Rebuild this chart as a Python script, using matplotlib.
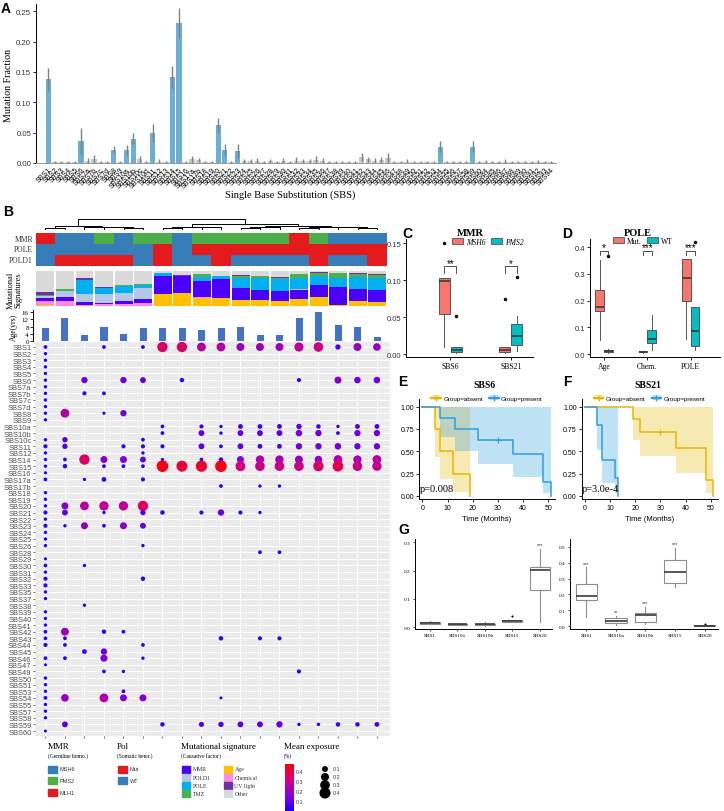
import numpy as np
import matplotlib.pyplot as plt
from matplotlib.colors import LinearSegmentedColormap, Normalize
from matplotlib.patches import Patch, Rectangle
from matplotlib.lines import Line2D

plt.rcParams['font.family'] = ['Liberation Sans', 'DejaVu Sans']
SERIF = ['Liberation Serif', 'DejaVu Serif']

# ---------------- data ----------------
# Panel A: mean fraction of every COSMIC SBS signature
sbs_all = ['SBS1', 'SBS2', 'SBS3', 'SBS4', 'SBS5', 'SBS6', 'SBS7a', 'SBS7b', 'SBS7c', 'SBS7d',
           'SBS8', 'SBS9', 'SBS10a', 'SBS10b', 'SBS10c', 'SBS10d', 'SBS11', 'SBS12', 'SBS13',
           'SBS14', 'SBS15', 'SBS16', 'SBS17a', 'SBS17b', 'SBS18', 'SBS19', 'SBS20', 'SBS21',
           'SBS22', 'SBS23', 'SBS24', 'SBS25', 'SBS26', 'SBS27', 'SBS28', 'SBS29', 'SBS30',
           'SBS31', 'SBS32', 'SBS33', 'SBS34', 'SBS35', 'SBS36', 'SBS37', 'SBS38', 'SBS39',
           'SBS40', 'SBS41', 'SBS42', 'SBS43', 'SBS44', 'SBS45', 'SBS46', 'SBS47', 'SBS48',
           'SBS49', 'SBS50', 'SBS51', 'SBS52', 'SBS53', 'SBS54', 'SBS55', 'SBS56', 'SBS57',
           'SBS58', 'SBS59', 'SBS60', 'SBS84', 'SBS85', 'SBS86', 'SBS87', 'SBS88', 'SBS89',
           'SBS90', 'SBS91', 'SBS92', 'SBS93', 'SBS94']
frac = [0.138, 0.001, 0.001, 0.001, 0.001, 0.036, 0.004, 0.006, 0.001, 0.001,
        0.022, 0.001, 0.022, 0.040, 0.006, 0.002, 0.050, 0.002, 0.001,
        0.141, 0.231, 0.001, 0.006, 0.005, 0.002, 0.002, 0.062, 0.022,
        0.002, 0.020, 0.003, 0.003, 0.003, 0.002, 0.003, 0.002, 0.003,
        0.002, 0.003, 0.003, 0.003, 0.005, 0.004, 0.002, 0.002, 0.002,
        0.002, 0.002, 0.010, 0.006, 0.004, 0.005, 0.008, 0.001, 0.001,
        0.002, 0.001, 0.001, 0.001, 0.001, 0.027, 0.001, 0.001, 0.001,
        0.001, 0.027, 0.001, 0.002, 0.001, 0.001, 0.002, 0.001, 0.001,
        0.001, 0.001, 0.002, 0.001, 0.001]
frac_err = [0.019, 0.002, 0.002, 0.002, 0.002, 0.022, 0.005, 0.008, 0.002, 0.002,
            0.006, 0.002, 0.008, 0.009, 0.006, 0.002, 0.015, 0.005, 0.002,
            0.019, 0.025, 0.002, 0.006, 0.004, 0.002, 0.002, 0.012, 0.010,
            0.002, 0.011, 0.004, 0.003, 0.005, 0.002, 0.003, 0.002, 0.005,
            0.002, 0.007, 0.003, 0.003, 0.006, 0.005, 0.002, 0.002, 0.002,
            0.002, 0.002, 0.007, 0.004, 0.005, 0.005, 0.009, 0.002, 0.002,
            0.004, 0.002, 0.002, 0.002, 0.003, 0.009, 0.002, 0.002, 0.002,
            0.002, 0.009, 0.002, 0.003, 0.002, 0.002, 0.004, 0.002, 0.002,
            0.002, 0.002, 0.003, 0.002, 0.002]
highlight = ['SBS1', 'SBS6', 'SBS8', 'SBS10a', 'SBS10b', 'SBS11', 'SBS14', 'SBS15',
             'SBS20', 'SBS21', 'SBS23', 'SBS54', 'SBS59']

# Panel B: sample annotations (18 samples, dendrogram order)
mmr_status = ['MLH1', 'MSH6', 'MSH6', 'PMS2', 'MSH6', 'PMS2', 'PMS2', 'MSH6', 'PMS2', 'PMS2',
              'PMS2', 'PMS2', 'PMS2', 'MLH1', 'PMS2', 'MSH6', 'MSH6', 'MSH6']
pole_status = ['WT'] * 6 + ['Mut', 'WT'] + ['Mut'] * 10
pold1_status = ['WT', 'Mut', 'Mut', 'Mut', 'Mut', 'WT', 'Mut', 'WT', 'WT', 'Mut',
                'WT', 'WT', 'WT', 'WT', 'Mut', 'WT', 'WT', 'Mut']
age_years = [7, 13, 3, 7.5, 3.5, 7, 7, 7, 6, 7, 7.5, 3, 3, 13, 16, 9, 8, 2]

# dendrogram merges (child a, child b, height); new clusters numbered from 18
dendro_merges = [(0, 1, 0.10), (4, 5, 0.08), (3, 19, 0.12), (2, 20, 0.16), (18, 21, 0.30),
                 (6, 7, 0.10), (8, 9, 0.12), (23, 24, 0.20),
                 (10, 11, 0.08), (12, 26, 0.12), (13, 14, 0.10), (16, 17, 0.08),
                 (15, 29, 0.13), (28, 30, 0.18), (27, 31, 0.24),
                 (25, 32, 0.50), (22, 33, 1.00)]

# mutational signature composition per sample (fractions)
sig_age = [.03, 0, 0, 0, 0, .02, .34, .38, .23, .24, .17, .17, .14, .20, .25, .05, .14, .13]
sig_chem = [.11, .14, .03, .06, .06, .07, 0, 0, .03, 0, 0, 0, 0, 0, 0, 0, .02, 0]
sig_mmr = [.10, .12, .10, .03, .09, .13, .53, .47, .45, .53, .36, .29, .29, .26, .34, .51, .34, .33]
sig_pold1 = [.06, .17, .21, .25, .22, .30, 0, 0, 0, 0, 0, 0, 0, .02, 0, 0, 0, 0]
sig_pole = [0, 0, .40, .18, .20, .09, .06, 0, .13, .09, .27, .34, .34, .31, .26, .24, .34, .34]
sig_tmz = [.03, .05, 0, 0, .04, .03, 0, 0, .08, 0, .06, .06, .03, .13, .08, .14, .07, .09]
sig_uv = [.065, 0, .06, .03, 0, 0, .02, .03, 0, 0, .02, 0, .03, 0, .04, 0, .03, .03]
sig_other = [.605, .52, .20, .45, .39, .36, .05, .12, .08, .14, .12, .14, .17, .08, .03, .06, .06, .08]

# mean exposure of each signature per sample: {signature: {sample column: exposure}}
exposure = {
    'SBS1': {0: .03, 3: .03, 5: .03, 6: .35, 7: .35, 8: .25, 9: .25, 10: .2, 11: .2, 12: .2,
             13: .27, 14: .3, 15: .08, 16: .2, 17: .18},
    'SBS2': {0: .02}, 'SBS3': {0: .02}, 'SBS4': {0: .02}, 'SBS5': {0: .02},
    'SBS6': {0: .02, 2: .12, 4: .12, 5: .1, 7: .05, 13: .04, 15: .15, 16: .13, 17: .13},
    'SBS7a': {0: .02}, 'SBS7b': {0: .02, 2: .04, 3: .03}, 'SBS7c': {0: .02}, 'SBS7d': {0: .02},
    'SBS8': {0: .02, 1: .25, 3: .015, 4: .12},
    'SBS9': {0: .02},
    'SBS10a': {6: .03, 8: .04, 9: .02, 10: .06, 11: .06, 12: .06, 13: .08, 14: .05, 15: .02,
               16: .06, 17: .06},
    'SBS10b': {6: .03, 8: .1, 9: .02, 10: .1, 11: .1, 12: .1, 13: .13, 14: .12, 15: .03,
               16: .12, 17: .12},
    'SBS10c': {0: .02, 1: .08, 5: .03},
    'SBS11': {0: .04, 1: .08, 4: .04, 5: .04, 6: .04, 8: .1, 9: .03, 10: .1, 11: .06, 12: .06,
              13: .12, 14: .12, 15: .13, 16: .12, 17: .12},
    'SBS12': {0: .02, 5: .02},
    'SBS14': {0: .02, 1: .03, 2: .35, 3: .15, 4: .15, 5: .1, 6: .02, 8: .03, 9: .05, 10: .15,
              11: .22, 12: .22, 13: .2, 14: .18, 15: .25, 16: .22, 17: .25},
    'SBS15': {0: .02, 1: .05, 3: .03, 4: .03, 5: .03, 6: .45, 7: .4, 8: .42, 9: .45, 10: .32,
              11: .3, 12: .3, 13: .3, 14: .35, 15: .38, 16: .3, 17: .28},
    'SBS16': {0: .015},
    'SBS17a': {0: .03, 2: .02, 3: .06, 5: .04},
    'SBS17b': {9: .03, 11: .02, 12: .02},
    'SBS18': {0: .02}, 'SBS19': {0: .02},
    'SBS20': {0: .02, 1: .15, 2: .25, 3: .28, 4: .28, 5: .35},
    'SBS21': {0: .04, 1: .1, 3: .02, 5: .08, 6: .05, 8: .04, 9: .12, 10: .04, 11: .02},
    'SBS22': {0: .02},
    'SBS23': {0: .04, 1: .02, 2: .15, 3: .03, 4: .15, 5: .1},
    'SBS24': {0: .02}, 'SBS25': {0: .02}, 'SBS26': {0: .02, 5: .02},
    'SBS28': {11: .03, 12: .03},
    'SBS29': {0: .015}, 'SBS30': {0: .03, 2: .02}, 'SBS31': {0: .02},
    'SBS32': {0: .04, 5: .05}, 'SBS33': {0: .04}, 'SBS35': {0: .02}, 'SBS37': {0: .02},
    'SBS38': {2: .02}, 'SBS39': {0: .02}, 'SBS40': {0: .02}, 'SBS41': {0: .02},
    'SBS42': {0: .03, 1: .2, 3: .05, 4: .03},
    'SBS43': {0: .03, 1: .03, 9: .05, 11: .04, 12: .04},
    'SBS44': {0: .04, 1: .03, 5: .03},
    'SBS45': {2: .06, 3: .12},
    'SBS46': {0: .03, 1: .03, 3: .16, 5: .02},
    'SBS47': {0: .012},
    'SBS49': {3: .03, 4: .02, 13: .04},
    'SBS50': {0: .02}, 'SBS51': {0: .02}, 'SBS53': {0: .02, 4: .03},
    'SBS54': {0: .03, 1: .18, 3: .25, 4: .15, 5: .15, 9: .012},
    'SBS55': {0: .02}, 'SBS57': {0: .02}, 'SBS58': {0: .02},
    'SBS59': {1: .1, 6: .05, 8: .07, 9: .08, 10: .1, 11: .1, 12: .12, 13: .02, 14: .02,
              15: .05, 16: .05, 17: .06},
    'SBS60': {0: .012},
}

# Panel C: boxplot summaries (whislo, q1, med, q3, whishi, outliers)
mmr_sigs = ['SBS6', 'SBS21']
msh6_box = [(0.010, 0.054, 0.099, 0.103, 0.103, [0.150]),
            (0.001, 0.003, 0.006, 0.009, 0.009, [0.074])]
pms2_box = [(0.002, 0.003, 0.005, 0.010, 0.010, [0.051]),
            (0.004, 0.012, 0.024, 0.041, 0.052, [0.105])]
mmr_marks = ['**', '*']

# Panel D
pole_groups = ['Age', 'Chem.', 'POLE']
mut_box = [(0.054, 0.159, 0.174, 0.241, 0.350, []),
           (0.005, 0.006, 0.008, 0.010, 0.011, []),
           (0.056, 0.198, 0.285, 0.354, 0.354, [])]
wt_box = [(0.005, 0.007, 0.0125, 0.016, 0.018, [0.366]),
          (0.015, 0.041, 0.056, 0.090, 0.144, []),
          (0.016, 0.031, 0.085, 0.175, 0.175, [0.420])]
pole_marks = ['*', '***', '***']

# Panels E/F: Kaplan-Meier steps
e_abs_t = [0, 5, 7, 12, 19]
e_abs_s = [1, 0.75, 0.5, 0.25, 0]
e_abs_lo = [1, 0.44, 0.19, 0.045, 0.045]
e_pre_t = [0, 7, 13, 22, 36, 48, 51]
e_pre_s = [1, 0.875, 0.75, 0.625, 0.469, 0.156, 0]
e_pre_lo = [1, 0.66, 0.5, 0.36, 0.21, 0.03, 0.03]
e_pre_cens = [(30, 0.625)]
f_abs_t = [0, 19, 22, 36, 48, 51]
f_abs_s = [1, 0.857, 0.714, 0.536, 0.179, 0]
f_abs_lo = [1, 0.63, 0.45, 0.26, 0.03, 0.03]
f_abs_cens = [(30, 0.714)]
f_pre_t = [0, 5, 7, 12, 13]
f_pre_s = [1, 0.8, 0.4, 0.2, 0]
f_pre_lo = [1, 0.52, 0.15, 0.03, 0.03]

# Panel G
pattern_sigs = ['SBS1', 'SBS10a', 'SBS10b', 'SBS15', 'SBS20']
p1_box = [(0.010, 0.012, 0.016, 0.020, 0.022, []),
          (0.008, 0.009, 0.010, 0.012, 0.013, []),
          (0.006, 0.008, 0.010, 0.012, 0.020, []),
          (0.018, 0.020, 0.023, 0.025, 0.027, [0.040]),
          (0.018, 0.133, 0.202, 0.212, 0.276, [])]
p1_marks = ['', '', '', '', '***']
p2_box = [(0.056, 0.165, 0.188, 0.268, 0.370, []),
          (0.010, 0.021, 0.036, 0.050, 0.067, []),
          (0.015, 0.025, 0.071, 0.082, 0.119, []),
          (0.245, 0.272, 0.339, 0.416, 0.490, []),
          (0.002, 0.003, 0.004, 0.006, 0.008, [0.012])]
p2_marks = ['***', '**', '***', '***', '']

# ---------------- styles ----------------
mmr_colors = {'MSH6': '#377EB8', 'PMS2': '#4DAF4A', 'MLH1': '#E41A1C'}
pol_colors = {'Mut': '#E41A1C', 'WT': '#377EB8'}
sig_colors = {'MMR': '#4B00FF', 'POLD1': '#B4C7E7', 'POLE': '#00B0F0', 'TMZ': '#4CAF50',
              'Age': '#FFC000', 'Chemical': '#FF88E8', 'UV light': '#7030A0', 'Other': '#D9D9D9'}
exp_cmap = LinearSegmentedColormap.from_list('exp', ['#1A00FF', '#8A00D4', '#D4007E', '#FF0000'])
exp_norm = Normalize(0.0, 0.48)
GOLD, BLUE = '#E7B800', '#2E9FDF'


def dot_size(v):
    return 150 * np.asarray(v) + 3


W, H = 724, 812
fig = plt.figure(figsize=(W / 100, H / 100), dpi=100)


def px_axes(x0, y0, x1, y1):
    return fig.add_axes([x0 / W, 1 - y1 / H, (x1 - x0) / W, (y1 - y0) / H])


def classic(ax):
    for s in ['top', 'right']:
        ax.spines[s].set_visible(False)
    for s in ['left', 'bottom']:
        ax.spines[s].set_linewidth(0.7)


ov = fig.add_axes([0, 0, 1, 1], zorder=-1)
ov.set_xlim(0, W)
ov.set_ylim(H, 0)
ov.axis('off')

# ---------------- A ----------------
ax = px_axes(36, 5, 556, 164)
xa = np.arange(len(sbs_all))
bar_cols = ['#6BAED6' if s in highlight else '#C8C8C8' for s in sbs_all]
ax.bar(xa, frac, width=0.8, color=bar_cols, edgecolor='none')
ax.errorbar(xa, frac, yerr=frac_err, fmt='none', ecolor='#808080', elinewidth=1, capsize=0)
ax.set_xlim(-1.9, 77.75)
ax.set_ylim(0, 0.262)
ax.set_yticks([0, 0.05, 0.10, 0.15, 0.20, 0.25])
ax.set_yticklabels(['0.00', '0.05', '0.10', '0.15', '0.20', '0.25'], fontsize=5.6, color='#333333')
ax.set_xticks(xa)
ax.set_xticklabels(sbs_all, rotation=45, ha='right', rotation_mode='anchor', fontsize=5)
ax.tick_params(axis='x', length=0, pad=2)
ax.tick_params(axis='y', length=2, width=0.6, pad=1.5)
classic(ax)
ax.spines['bottom'].set_color('#999999')
ov.text(9, 85, 'Mutation Fraction', family=SERIF, fontsize=7.2, rotation=90,
        ha='center', va='center')
ov.text(290, 195, 'Single Base Substitution (SBS)', family=SERIF, fontsize=7.5,
        ha='center', va='center')

# ---------------- B ----------------
ncol = len(mmr_status)
cols = np.arange(ncol)

# dendrogram
ax = px_axes(35.7, 220, 387, 229.5)
node = {i: (float(i), 0.0) for i in range(ncol)}
for k, (a, b, h) in enumerate(dendro_merges):
    xa_, ha_ = node[a]
    xb_, hb_ = node[b]
    ax.plot([xa_, xa_, xb_, xb_], [ha_, h, h, hb_], color='black', lw=0.7, clip_on=False)
    node[ncol + k] = ((xa_ + xb_) / 2, h)
ax.set_xlim(-0.5, ncol - 0.5)
ax.set_ylim(0, 1)
ax.axis('off')

# annotation rows
ax = px_axes(35.7, 234, 387, 267)
for r, (status, cmap_) in enumerate([(mmr_status, mmr_colors), (pole_status, pol_colors),
                                     (pold1_status, pol_colors)]):
    ax.bar(cols, 0.93, bottom=r + 0.035, width=1.0, color=[cmap_[s] for s in status],
           edgecolor='none')
ax.set_xlim(-0.5, ncol - 0.5)
ax.set_ylim(3, 0)
ax.axis('off')
for r, lab in enumerate(['MMR', 'POLE', 'POLD1']):
    ov.text(33, 239.5 + r * 11, lab, family=SERIF, fontsize=5.5, ha='right', va='center',
            color='#333333')

# signature stacks
ax = px_axes(35.7, 272, 387, 307.3)
stack = [('Age', sig_age), ('Chemical', sig_chem), ('MMR', sig_mmr), ('POLD1', sig_pold1),
         ('POLE', sig_pole), ('TMZ', sig_tmz), ('UV light', sig_uv), ('Other', sig_other)]
bottom = np.zeros(ncol)
for name, vals in stack:
    ax.bar(cols, vals, bottom=bottom, width=0.92, color=sig_colors[name], edgecolor='none')
    bottom += np.array(vals)
ax.set_xlim(-0.5, ncol - 0.5)
ax.set_ylim(0, 1)
ax.axis('off')
ov.text(15, 290, 'Mutational\nSignatures', family=SERIF, fontsize=6, rotation=90,
        ha='center', va='center', linespacing=0.95)

# age bars
ax = px_axes(33, 311, 387, 342)
ax.bar(cols, age_years, width=0.36, color='#4472C4')
ax.set_xlim((33 - 45.45) / 19.5, ncol - 0.5)
ax.set_ylim(-0.17, 17.3)
ax.set_yticks([0, 4, 8, 12, 16])
ax.set_yticklabels(['0', '4', '8', '12', '16'], family=SERIF, fontsize=5)
ax.tick_params(axis='y', length=2, width=0.6, pad=1)
ax.set_xticks([])
for s in ['top', 'right', 'bottom']:
    ax.spines[s].set_visible(False)
ax.spines['left'].set_linewidth(0.7)
ov.text(14, 327, 'Age(yrs)', family=SERIF, fontsize=5.5, rotation=90, ha='center', va='center')

# dot matrix
dot_rows = list(exposure.keys())
ax = px_axes(35, 343, 390, 737)
ax.set_facecolor('#EBEBEB')
for i in range(len(dot_rows)):
    ax.axhline(i, color='white', lw=0.7, zorder=0)
for c in cols:
    ax.axvline(c, color='white', lw=0.7, zorder=0)
dx, dy, dv = [], [], []
for i, sig in enumerate(dot_rows):
    for c, v in exposure[sig].items():
        dx.append(c)
        dy.append(i)
        dv.append(v)
dv = np.array(dv)
ax.scatter(dx, dy, s=dot_size(dv), c=dv, cmap=exp_cmap, norm=exp_norm, edgecolors='none',
           zorder=3)
ax.set_xlim((35 - 45.45) / 19.5, (390 - 45.45) / 19.5)
ax.set_ylim(len(dot_rows) - 1 + 0.755, -0.755)
ax.set_yticks(range(len(dot_rows)))
ax.set_yticklabels(dot_rows, fontsize=5.4, color='#4D4D4D')
ax.set_xticks(cols)
ax.set_xticklabels([])
ax.tick_params(length=1.5, width=0.5, color='#333333', pad=1)
for s in ax.spines.values():
    s.set_visible(False)

# legends (bottom)
ov.text(48, 747, 'MMR', family=SERIF, fontsize=6.5, va='center')
ov.text(48, 756, '(Germline homo.)', family=SERIF, fontsize=4, va='center')
for k, name in enumerate(['MSH6', 'PMS2', 'MLH1']):
    ov.add_patch(Rectangle((48, 766.5 + k * 11.7), 9, 7, color=mmr_colors[name]))
    ov.text(59.5, 770 + k * 11.7, name, fontsize=4, va='center', color='#333333')
ov.text(117, 747, 'Pol', family=SERIF, fontsize=6.5, va='center')
ov.text(117, 756, '(Somatic heter.)', family=SERIF, fontsize=4, va='center')
for k, name in enumerate(['Mut', 'WT']):
    ov.add_patch(Rectangle((118, 766.5 + k * 11.7), 9, 7, color=pol_colors[name]))
    ov.text(129.5, 770 + k * 11.7, name, fontsize=4, va='center', color='#333333')
ov.text(181, 747, 'Mutational signature', family=SERIF, fontsize=6.5, va='center')
ov.text(181, 756, '(Causative factor)', family=SERIF, fontsize=4, va='center')
for k, name in enumerate(['MMR', 'POLD1', 'POLE', 'TMZ']):
    ov.add_patch(Rectangle((182, 766.5 + k * 8.3), 8, 7, color=sig_colors[name]))
    ov.text(192.5, 770 + k * 8.3, name, family=SERIF, fontsize=4.2, va='center', color='#333333')
for k, name in enumerate(['Age', 'Chemical', 'UV light', 'Other']):
    ov.add_patch(Rectangle((224, 766.5 + k * 8.3), 8, 7, color=sig_colors[name]))
    ov.text(234.5, 770 + k * 8.3, name, family=SERIF, fontsize=4.2, va='center', color='#333333')
ov.text(284, 747, 'Mean exposure', family=SERIF, fontsize=6.5, va='center')
ov.text(284, 756, '(%)', family=SERIF, fontsize=4, va='center')
cax = px_axes(285, 765, 293, 812)
cax.imshow(np.linspace(0, 0.48, 200)[:, None], aspect='auto', cmap=exp_cmap, norm=exp_norm,
           origin='lower', extent=[0, 1, 0, 0.48])
cax.axis('off')
legend_vals = [0.1, 0.2, 0.3, 0.4]
for v in legend_vals:
    ov.text(296, 812 - v / 0.48 * 47, f'{v:.1f}', fontsize=3.8, va='center', color='#333333')
ov.add_patch(Rectangle((320, 765), 10, 34, color='#F2F2F2'))
ov.scatter([325] * 4, [770, 778, 786, 794], s=dot_size(legend_vals), color='black',
           edgecolors='none')
for k, v in enumerate(legend_vals):
    ov.text(333, 770 + k * 8, f'{v:.1f}', fontsize=3.8, va='center', color='#333333')


# ---------------- helpers for C, D, G ----------------
def draw_boxes(ax, rows, positions, width, face, edge, med_color, lw=0.7, med_lw=1.1, fsize=2.5):
    stats = [dict(whislo=r[0], q1=r[1], med=r[2], q3=r[3], whishi=r[4], fliers=r[5])
             for r in rows]
    ax.bxp(stats, positions=positions, widths=width, patch_artist=True, showcaps=False,
           boxprops=dict(facecolor=face, edgecolor=edge, linewidth=lw),
           medianprops=dict(color=med_color, linewidth=med_lw),
           whiskerprops=dict(color=edge, linewidth=lw),
           flierprops=dict(marker='o', markerfacecolor='black', markeredgecolor='none',
                           markersize=fsize))


def bracket(ax, x0, x1, y, drop, text, fs=7):
    ax.plot([x0, x0, x1, x1], [y - drop, y, y, y - drop], color='#333333', lw=0.6)
    ax.text((x0 + x1) / 2, y - drop * 0.3, text, ha='center', va='bottom', fontsize=fs)


TOP_CD = 240  # top pixel row of panels C and D

# ---------------- C ----------------
ax = px_axes(406, TOP_CD, 533, TOP_CD + 118)
pos = np.arange(len(mmr_sigs))
draw_boxes(ax, msh6_box, pos - 0.1, 0.18, '#F8766D', '#555555', '#333333')
draw_boxes(ax, pms2_box, pos + 0.1, 0.18, '#00BFC4', '#555555', '#333333')
for p, m in zip(pos, mmr_marks):
    bracket(ax, p - 0.1, p + 0.1, 0.119, 0.009, m)
ax.set_xlim(-0.733, 1.367)
ax.set_ylim(-0.004, 0.156)
ax.set_yticks([0, 0.05, 0.10, 0.15])
ax.set_yticklabels(['0.00', '0.05', '0.10', '0.15'], fontsize=5.5, color='#333333')
ax.set_xticks(pos)
ax.set_xticklabels(mmr_sigs, family=SERIF, fontsize=5.5)
ax.tick_params(length=2, width=0.6, pad=1.5)
classic(ax)
ov.text(470, TOP_CD - 7, 'MMR', family=SERIF, fontsize=7.5, fontweight='bold',
        ha='center', va='center')
fig.legend([Patch(facecolor='#F8766D', edgecolor='#555555', lw=0.6),
            Patch(facecolor='#00BFC4', edgecolor='#555555', lw=0.6)],
           ['MSH6', 'PMS2'], loc='center', bbox_to_anchor=(488 / W, 1 - (TOP_CD + 3) / H),
           ncol=2, frameon=False, prop=dict(family=SERIF, size=5.5, style='italic'),
           handlelength=1.4, handleheight=0.8, columnspacing=0.8, handletextpad=0.4)

# ---------------- D ----------------
ax = px_axes(590, TOP_CD, 720, TOP_CD + 118)
pos = np.arange(len(pole_groups))
draw_boxes(ax, mut_box, pos - 0.1, 0.2, '#F8766D', '#555555', '#333333')
draw_boxes(ax, wt_box, pos + 0.1, 0.2, '#00BFC4', '#555555', '#333333')
for p, m in zip(pos, pole_marks):
    bracket(ax, p - 0.1, p + 0.1, 0.385, 0.016, m)
ax.set_xlim(-0.323, 2.68)
ax.set_ylim(-0.0112, 0.43)
ax.set_yticks([0, 0.1, 0.2, 0.3, 0.4])
ax.set_yticklabels(['0.0', '0.1', '0.2', '0.3', '0.4'], fontsize=5.5, color='#333333')
ax.set_xticks(pos)
ax.set_xticklabels(pole_groups, family=SERIF, fontsize=5.5)
ax.tick_params(length=2, width=0.6, pad=1.5)
classic(ax)
ov.text(638, TOP_CD - 7, 'POLE', family=SERIF, fontsize=7.5, fontweight='bold',
        ha='center', va='center')
fig.legend([Patch(facecolor='#F8766D', edgecolor='#555555', lw=0.6),
            Patch(facecolor='#00BFC4', edgecolor='#555555', lw=0.6)],
           ['Mut.', 'WT'], loc='center', bbox_to_anchor=(643 / W, 1 - (TOP_CD + 2) / H),
           ncol=2, frameon=False, prop=dict(family=SERIF, size=5.5), handlelength=1.4,
           handleheight=0.8, columnspacing=0.8, handletextpad=0.4)


# ---------------- E / F ----------------
def km_curve(ax, t, s, lo, color, cens=()):
    hi = [1.0] * len(t)
    ax.fill_between(t, lo, hi, step='post', color=color, alpha=0.3, linewidth=0)
    ax.step(t, s, where='post', color=color, lw=1.1)
    for ct, cs in cens:
        ax.plot(ct, cs, marker='+', color=color, ms=4, mew=0.8)


def km_axes(x0, title, pval, curves):
    ax = px_axes(x0, 400, x0 + 136, 500)
    for t, s, lo, color, cens in curves:
        km_curve(ax, t, s, lo, color, cens)
    ax.set_xlim(-3.3 / 2.52, (136 - 3.3) / 2.52)
    ax.set_ylim(-0.034, 1.086)
    ax.set_xticks([0, 10, 20, 30, 40, 50])
    ax.set_yticks([0, 0.25, 0.5, 0.75, 1.0])
    ax.set_yticklabels(['0.00', '0.25', '0.50', '0.75', '1.00'])
    ax.tick_params(labelsize=5, length=2, width=0.6, pad=1.5)
    classic(ax)
    ax.text(-1.0, 0.08, pval, family=SERIF, fontsize=7.5, va='center')
    ax.set_xlabel('Time (Months)', fontsize=5.5, labelpad=3)
    handles = [(Patch(facecolor=GOLD, alpha=0.3), Line2D([], [], color=GOLD, marker='+', ms=4)),
               (Patch(facecolor=BLUE, alpha=0.3), Line2D([], [], color=BLUE, marker='+', ms=4))]
    ax.legend(handles, ['Group=absent', 'Group=present'], loc='center',
              bbox_to_anchor=(0.5, 1.01), ncol=2, frameon=False, fontsize=4.5,
              handlelength=1.5, columnspacing=1.0, handletextpad=0.4)
    ov.text(x0 + 66, 386, title, family=SERIF, fontsize=7, fontweight='bold',
            ha='center', va='center')
    return ax


km_axes(419, 'SBS6', 'p=0.008',
        [(e_abs_t, e_abs_s, e_abs_lo, GOLD, []),
         (e_pre_t, e_pre_s, e_pre_lo, BLUE, e_pre_cens)])
km_axes(581.5, 'SBS21', 'p=3.0e-4',
        [(f_abs_t, f_abs_s, f_abs_lo, GOLD, f_abs_cens),
         (f_pre_t, f_pre_s, f_pre_lo, BLUE, [])])

# ---------------- G ----------------
for (x0, x1, ylim, yticks, rows, marks, title, tx) in [
        (415, 552, (-0.006, 0.3117), [0, 0.1, 0.2, 0.3], p1_box, p1_marks, 'Pattern 1', 479),
        (570, 718, (-0.017, 0.548), [0, 0.1, 0.2, 0.3, 0.4, 0.5], p2_box, p2_marks,
         'Pattern 2', 647)]:
    ax = px_axes(x0, 540, x1, 630)
    pos = np.arange(len(pattern_sigs))
    draw_boxes(ax, rows, pos, 0.72, 'white', '#8C8C8C', '#3A3A3A', lw=0.8, med_lw=1.2, fsize=1.5)
    for p, r, m in zip(pos, rows, marks):
        if m:
            ax.text(p, r[4] + (ylim[1] - ylim[0]) * 0.02, m, ha='center', va='bottom',
                    fontsize=4, color='#333333')
    ax.set_ylim(*ylim)
    ax.set_xlim(-0.55, 4.45)
    ax.set_yticks(yticks)
    ax.set_yticklabels([f'{v:.1f}' for v in yticks], family=SERIF, fontsize=3.8)
    ax.set_xticks(pos)
    ax.set_xticklabels(pattern_sigs, family=SERIF, fontsize=3.8)
    ax.tick_params(length=1.5, width=0.5, pad=1.5)
    classic(ax)
    ov.text(tx, 545, title, family=SERIF, fontsize=8.5, ha='center', va='center')

# ---------------- panel letters ----------------
for lab, (x, y) in {'A': (6, 9), 'B': (8, 212), 'C': (407, TOP_CD - 6), 'D': (567, TOP_CD - 6),
                    'E': (403, 382), 'F': (567, 382), 'G': (404, 530)}.items():
    ov.text(x, y, lab, fontsize=10, fontweight='bold', ha='center', va='center')

fig.savefig('out.png', dpi=100)
